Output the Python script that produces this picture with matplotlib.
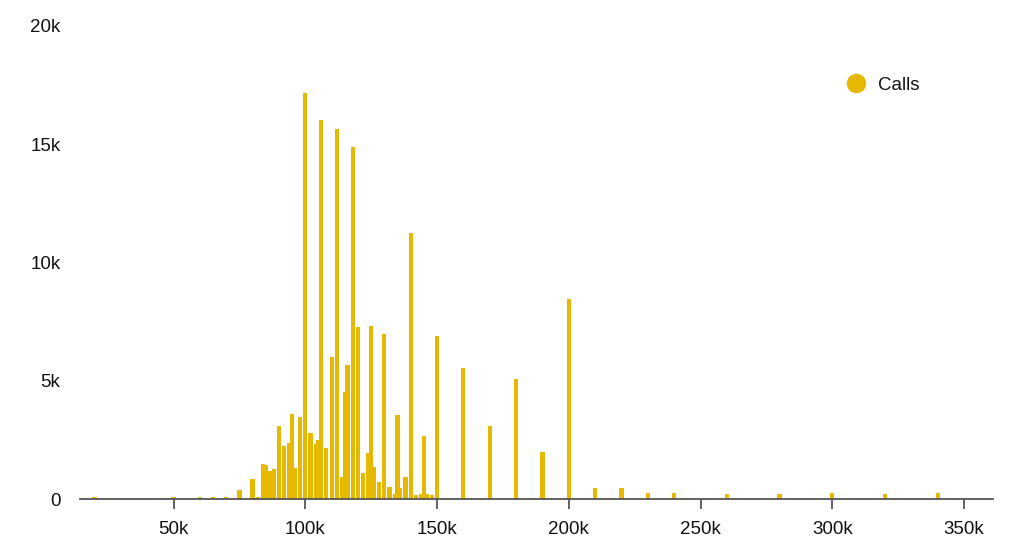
import matplotlib
matplotlib.use("Agg")
import matplotlib.pyplot as plt
from matplotlib.ticker import FuncFormatter, FixedLocator
from matplotlib.lines import Line2D

# Data (x in thousands, counts)
amounts_k = [20, 50, 60, 65, 70, 75, 80, 82, 84, 85, 86.5, 88, 90, 92, 94, 95, 96, 98,
             100, 102, 104, 105, 106, 108, 110, 112, 114, 115, 116, 118, 120, 122, 124,
             125, 126, 128, 130, 132, 134, 135, 136, 138, 140, 142, 144, 145, 146, 148,
             150, 160, 170, 180, 190, 200, 210, 220, 230, 240, 260, 280, 300, 320, 340]
calls = [100, 100, 100, 100, 100, 380, 840, 100, 1500, 1420, 1170, 1250, 3080, 2230, 2370, 3610, 1300, 3480,
         17150, 2800, 2310, 2490, 16030, 2140, 6020, 15630, 940, 4540, 5670, 14880, 7260, 1110, 1960,
         7320, 1370, 730, 6980, 500, 210, 3550, 450, 920, 11230, 190, 210, 2680, 220, 190,
         6910, 5550, 3090, 5090, 1970, 8460, 450, 450, 260, 260, 200, 200, 260, 200, 260]
x_ticks_k = [50, 100, 150, 200, 250, 300, 350]
y_ticks = [0, 5000, 10000, 15000, 20000]
series_name = "Calls"

GOLD = "#E6B800"
AXIS = "#555555"
plt.rcParams['font.family'] = ['Liberation Sans', 'DejaVu Sans']

fig = plt.figure(figsize=(10.24, 5.55), dpi=100)
ax = fig.add_axes([80/1024, 56/555, 913/1024, 473/555])

xs = [v * 1000 for v in amounts_k]
ax.bar(xs, calls, width=1600, color=GOLD, linewidth=0)

ax.set_xlim(14500, 361000)
ax.set_ylim(0, 20000)

fmt = FuncFormatter(lambda v, p: "0" if v == 0 else f"{int(round(v/1000))}k")
ax.xaxis.set_major_locator(FixedLocator([v * 1000 for v in x_ticks_k]))
ax.yaxis.set_major_locator(FixedLocator(y_ticks))
ax.xaxis.set_major_formatter(fmt)
ax.yaxis.set_major_formatter(fmt)

for s in ['top', 'right', 'left']:
    ax.spines[s].set_visible(False)
ax.spines['bottom'].set_color(AXIS)
ax.spines['bottom'].set_linewidth(1.3)

ax.tick_params(axis='x', direction='out', length=7, width=1.3, color=AXIS,
               pad=9, labelsize=13.5, labelcolor='#111111')
ax.tick_params(axis='y', length=0, pad=14, labelsize=13.5, labelcolor='#111111')

handle = Line2D([], [], marker='o', linestyle='', markersize=13, color=GOLD)
leg = fig.legend([handle], [series_name], loc='center left',
                 bbox_to_anchor=(846.6/1024, (555-85)/555), frameon=False,
                 borderaxespad=0, borderpad=0, handlelength=1.0, handletextpad=0.67,
                 fontsize=13.5)
for t in leg.get_texts():
    t.set_color('#111111')

fig.savefig("out.png", dpi=100)
